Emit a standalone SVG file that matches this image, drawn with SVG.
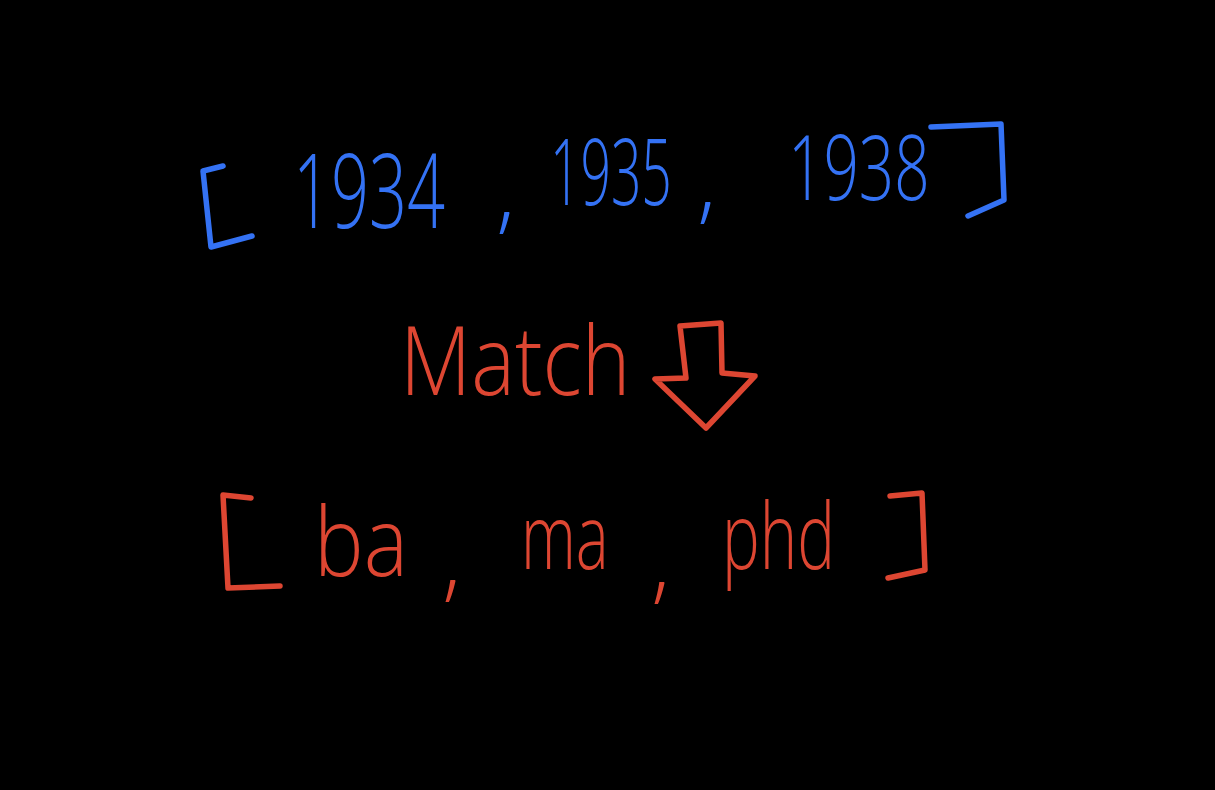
<svg xmlns="http://www.w3.org/2000/svg" width="1215" height="790" viewBox="0 0 1215 790">
<style>
.b{fill:#3472f4;font-family:"Open Sans","Liberation Sans",sans-serif;font-weight:300}
.r{fill:#dd4632;font-family:"Open Sans","Liberation Sans",sans-serif;font-weight:300}
.sb{fill:none;stroke:#3472f4;stroke-width:5.5;stroke-linecap:round;stroke-linejoin:round}
.sr{fill:none;stroke:#dd4632;stroke-width:5.5;stroke-linecap:round;stroke-linejoin:round}
</style>
<rect width="1215" height="790" fill="#000"/>
<g id="years">
<path class="sb" d="M223 166 L203 171 L211 247 L252 236"/>
<text class="b" transform="translate(293,228) scale(0.64,1)" font-size="104">1934</text>
<text class="b" x="496" y="222" font-size="90">,</text>
<text class="b" transform="translate(550,205) scale(0.58,1)" font-size="92">1935</text>
<text class="b" x="697" y="212" font-size="90">,</text>
<text class="b" transform="translate(788,200) scale(0.69,1)" font-size="90">1938</text>
<path class="sb" d="M931 127 L1001 124 L1004 200 L968 216"/>
</g>
<g id="match">
<text class="r" transform="translate(400,395) scale(0.86,1)" font-size="96">Match</text>
</g>
<g id="arrow">
<path class="sr" d="M680 326 L721 323 L722 373 L755 376 L706 428 L655 379 L686 378 Z"/>
</g>
<g id="degrees">
<path class="sr" d="M251 498 L223 495 L228 588 L280 586"/>
<text class="r" transform="translate(314,576) scale(0.87,1)" font-size="96">ba</text>
<text class="r" x="442" y="590" font-size="90">,</text>
<text class="r" transform="translate(521,569) scale(0.69,1)" font-size="90">ma</text>
<text class="r" x="651" y="592" font-size="90">,</text>
<text class="r" transform="translate(722,569) scale(0.69,1)" font-size="92">phd</text>
<path class="sr" d="M890 496 L922 493 L925 570 L888 578"/>
</g>
</svg>
